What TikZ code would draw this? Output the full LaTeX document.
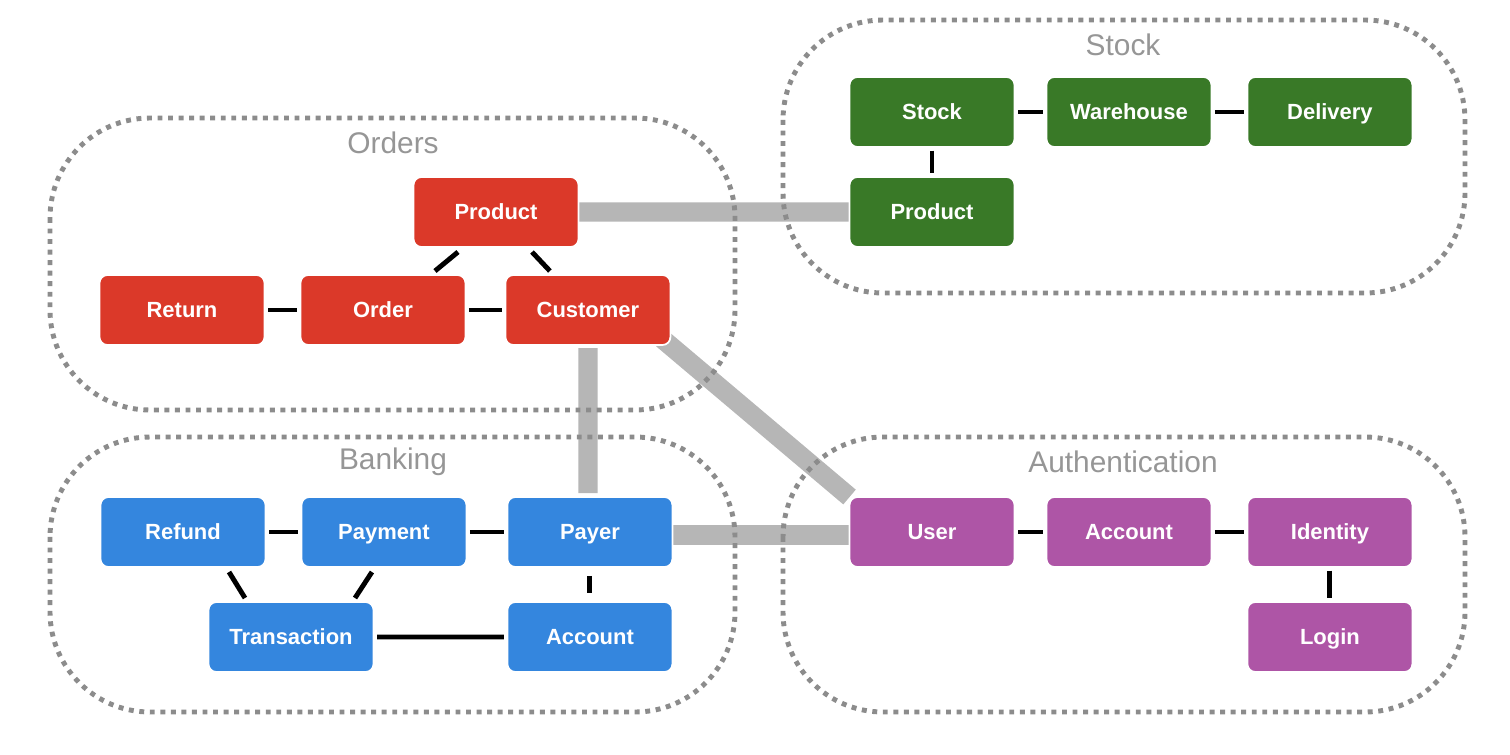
\documentclass[tikz,border=0pt]{standalone}
\usepackage{xcolor}
\usepackage{fontspec}
\usepackage{tikz}
\usetikzlibrary{positioning, calc, backgrounds}
\newfontfamily\boxfont{Liberation Sans}
\definecolor{ordercolor}{RGB}{219, 57, 41}
\definecolor{stockcolor}{RGB}{57, 121, 39}
\definecolor{bankcolor}{RGB}{52, 134, 222}
\definecolor{authcolor}{RGB}{174, 85, 166}
\definecolor{bridgegray}{RGB}{182, 182, 182}
\definecolor{framegray}{RGB}{140, 140, 140}
\definecolor{labelgray}{RGB}{150, 150, 150}

\begin{document}
\begin{tikzpicture}[
    x=0.02cm, y=-0.02cm,
    entity/.style={draw=white, line width=1pt, rounded corners=4.5pt, minimum width=3.3cm, minimum height=1.4cm, text height=9pt, text depth=0pt, inner sep=0pt, outer sep=0pt, text=white, font=\boxfont\bfseries\fontsize{12.5}{14}\selectfont},
    orderbox/.style={entity, fill=ordercolor},
    stockbox/.style={entity, fill=stockcolor},
    bankbox/.style={entity, fill=bankcolor},
    authbox/.style={entity, fill=authcolor},
    link/.style={black, line width=2.8pt, shorten <=2pt, shorten >=2pt},
    bridge/.style={bridgegray, line width=11pt},
    context/.style={framegray, line width=2.8pt, dash pattern=on 2.8pt off 3.2pt, rounded corners=2cm},
    ctxlabel/.style={text=labelgray, font=\boxfont\fontsize{17}{20}\selectfont}
]
    \useasboundingbox (0,0) rectangle (1510,754);

    % Bounded contexts
    \draw[context] (50,118) rectangle (735,410);
    \draw[context] (783,20) rectangle (1465,293);
    \draw[context] (50,437) rectangle (735,712);
    \draw[context] (783,437) rectangle (1465,712);
    \node[ctxlabel] (ordersLbl) at (393,143) {Orders};
    \node[ctxlabel] (stockLbl) at (1123,45) {Stock};
    \node[ctxlabel] (bankLbl) at (393,462) {Banking};
    \node[ctxlabel] (authLbl) at (1123,462) {Authentication};

    % Orders
    \node[orderbox] (returnO) at (182,310) {Return};
    \node[orderbox, right=0.72cm of returnO] (order) {Order};
    \node[orderbox, right=0.8cm of order] (customer) {Customer};
    \node[orderbox] (productO) at (496,212) {Product};

    % Stock
    \node[stockbox] (stock) at (932,112) {Stock};
    \node[stockbox, right=0.64cm of stock] (warehouse) {Warehouse};
    \node[stockbox, right=0.72cm of warehouse] (delivery) {Delivery};
    \node[stockbox, below=0.6cm of stock] (productS) {Product};

    % Banking
    \node[bankbox] (refund) at (183,532) {Refund};
    \node[bankbox, right=0.72cm of refund] (payment) {Payment};
    \node[bankbox, right=0.82cm of payment] (payer) {Payer};
    \node[bankbox, below=0.7cm of payer] (accountB) {Account};
    \node[bankbox] (transaction) at (291,637) {Transaction};

    % Authentication
    \node[authbox] (user) at (932,532) {User};
    \node[authbox, right=0.64cm of user] (accountA) {Account};
    \node[authbox, right=0.72cm of accountA] (identity) {Identity};
    \node[authbox, below=0.7cm of identity] (login) {Login};

    % Links inside contexts
    \draw[link] (returnO) -- (order);
    \draw[link] (order) -- (customer);
    \draw[link, shorten <=0pt, shorten >=0pt] ($(productO.south)+(-38,5)$) -- ($(order.north)+(52,-4)$);
    \draw[link, shorten <=0pt, shorten >=0pt] ($(productO.south)+(36,5)$) -- ($(customer.north)+(-38,-4)$);
    \draw[link] (stock) -- (warehouse);
    \draw[link] (warehouse) -- (delivery);
    \draw[link] (stock) -- (productS);
    \draw[link] (refund) -- (payment);
    \draw[link] (payment) -- (payer);
    \draw[link, shorten <=5pt, shorten >=5pt] (payer) -- (accountB);
    \draw[link] (transaction) -- (accountB);
    \draw[link, shorten <=0pt, shorten >=0pt] ($(refund.south)+(46,5)$) -- ($(transaction.north)+(-46,-4)$);
    \draw[link, shorten <=0pt, shorten >=0pt] ($(payment.south)+(-12,5)$) -- ($(transaction.north)+(64,-4)$);
    \draw[link] (user) -- (accountA);
    \draw[link] (accountA) -- (identity);
    \draw[link] (identity) -- (login);

    % Links between contexts
    \begin{scope}[on background layer]
        \draw[bridge] (productO.east) -- (productS.west);
        \draw[bridge] ($(customer.south)+(0,3)$) -- ($(payer.north)+(-2,-4)$);
        \draw[bridge] ($(customer.south east)+(-8,-6)$) -- (user.north west);
        \draw[bridge] ($(payer.east)+(0,3)$) -- ($(user.west)+(0,3)$);
    \end{scope}
\end{tikzpicture}
\end{document}
